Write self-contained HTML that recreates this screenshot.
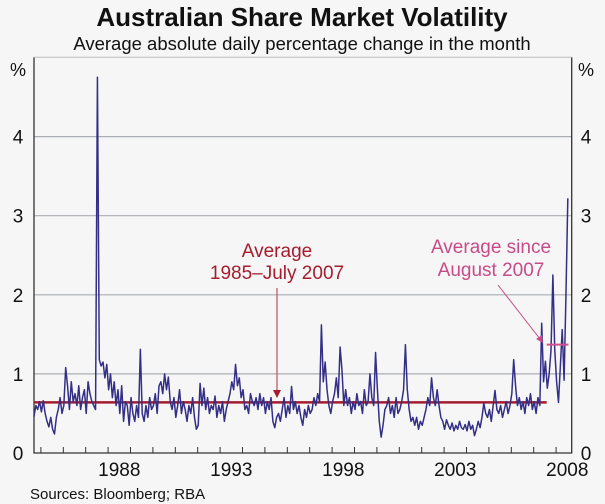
<!DOCTYPE html>
<html><head><meta charset="utf-8"><style>
body{margin:0;background:#f6f6f6;}
svg{display:block;font-family:"Liberation Sans",sans-serif;}
</style></head><body>
<svg id="chart" width="605" height="504" viewBox="0 0 605 504">
<rect x="0" y="0" width="605" height="504" fill="#f6f6f6"/>
<text x="302" y="26" text-anchor="middle" font-size="26" font-weight="bold" fill="#111">Australian Share Market Volatility</text>
<text x="302" y="50" text-anchor="middle" font-size="18.5" fill="#111">Average absolute daily percentage change in the month</text>
<text x="18" y="76" text-anchor="middle" font-size="18" fill="#111">%</text>
<text x="586" y="76" text-anchor="middle" font-size="18" fill="#111">%</text>
<g id="grid"></g>
<g id="axes"></g>
<g id="series"></g>
<text x="277" y="257" text-anchor="middle" font-size="19" fill="#a51d2d">Average</text>
<text x="277" y="279" text-anchor="middle" font-size="19" fill="#a51d2d">1985–July 2007</text>
<line x1="277" y1="288" x2="277" y2="391" stroke="#c0606a" stroke-width="1.3"/>
<polygon points="273,390 281,390 277,398" fill="#a51d2d"/>
<text x="491" y="253" text-anchor="middle" font-size="19" fill="#c84b88">Average since</text>
<text x="491" y="276" text-anchor="middle" font-size="19" fill="#c84b88">August 2007</text>
<line x1="498" y1="285" x2="540" y2="339" stroke="#c84b88" stroke-width="1"/>
<polygon points="536,339 542,335 543,343" fill="#c84b88"/>
<text x="30" y="499" font-size="15" fill="#111">Sources: Bloomberg; RBA</text>
</svg>
<script>
const startYear = 1984.69;
const values = [
0.46,0.6,0.55,0.65,0.52,0.66,0.5,0.4,0.33,0.45,0.3,0.24,
0.45,0.55,0.7,0.5,0.6,1.08,0.85,0.55,0.9,0.65,0.75,0.6,
0.85,0.55,0.7,0.8,0.5,0.9,0.75,0.65,0.6,0.55,4.75,1.18,
1.1,1.15,0.95,1.12,0.8,1.0,0.7,0.9,0.6,0.8,0.5,0.85,
0.4,0.65,0.6,0.35,0.7,0.5,0.4,0.6,0.45,1.31,0.5,0.4,
0.6,0.45,0.7,0.55,0.6,0.75,0.5,0.85,0.9,0.75,1.0,0.8,
0.96,0.65,0.55,0.7,0.45,0.6,0.8,0.5,0.65,0.55,0.4,0.6,
0.5,0.7,0.45,0.3,0.35,0.88,0.6,0.82,0.55,0.7,0.5,0.6,
0.55,0.72,0.45,0.6,0.5,0.65,0.4,0.55,0.65,0.75,0.9,0.8,
1.12,0.85,0.95,0.7,0.8,0.55,0.6,0.5,0.75,0.65,0.6,0.7,
0.55,0.75,0.6,0.7,0.5,0.65,0.55,0.7,0.4,0.32,0.45,0.5,
0.4,0.55,0.7,0.45,0.6,0.5,0.84,0.55,0.65,0.5,0.6,0.45,
0.35,0.55,0.45,0.6,0.5,0.55,0.7,0.6,0.75,0.65,1.62,0.9,
1.15,0.8,0.6,0.5,0.65,0.75,0.95,0.7,1.34,1.05,0.6,0.8,
0.6,0.7,0.5,0.65,0.55,0.75,0.6,0.65,0.5,0.8,0.6,0.65,
1.0,0.7,0.6,1.27,0.8,0.4,0.2,0.35,0.55,0.6,0.7,0.5,
0.6,0.45,0.7,0.5,0.55,0.65,0.8,1.37,0.8,0.55,0.4,0.45,
0.35,0.45,0.3,0.4,0.35,0.45,0.55,0.7,0.6,0.95,0.7,0.6,
0.8,0.6,0.45,0.4,0.3,0.42,0.35,0.3,0.38,0.28,0.35,0.3,
0.4,0.32,0.3,0.36,0.28,0.4,0.3,0.35,0.22,0.3,0.4,0.32,
0.45,0.63,0.5,0.45,0.55,0.4,0.6,0.79,0.55,0.5,0.6,0.45,
0.55,0.65,0.5,0.6,0.75,1.18,0.85,0.6,0.7,0.55,0.65,0.5,
0.7,0.6,0.75,0.55,0.65,0.5,0.7,0.6,1.64,0.9,1.16,0.82,
1.0,1.3,2.25,1.3,0.9,0.64,1.1,1.56,0.92,2.0,3.22
];
const yTicks = [0,1,2,3,4];
const xLabels = ["1988","1993","1998","2003","2008"];
const avgPeriods = [1984.69, 2007.58];
const avgValues = [0.64];
const sincePeriods = [2007.58, 2008.55];
const sinceValues = [1.37];

const L=34,R=571.7,T=57.3,B=453;
function xs(t){return 63.3+(t-1986)*22.4;}
function ys(v){return B-v*79.1;}
const NS="http://www.w3.org/2000/svg";
function mk(tag,attrs,parent){const e=document.createElementNS(NS,tag);for(const k in attrs)e.setAttribute(k,attrs[k]);parent.appendChild(e);return e;}
const grid=document.getElementById('grid'),axes=document.getElementById('axes'),series=document.getElementById('series');
yTicks.forEach(v=>{
  if(v>0){const g=mk('line',{x1:L,x2:R,y1:ys(v),y2:ys(v),stroke:'#a9adb1','stroke-width':1.2},grid);
    
    }
  const a=mk('text',{x:18,y:ys(v)+7,'text-anchor':'middle','font-size':19,fill:'#111'},axes);a.textContent=v;
  
  
  const b=mk('text',{x:586,y:ys(v)+7,'text-anchor':'middle','font-size':19,fill:'#111'},axes);b.textContent=v;
  
  
});
const frame=mk('path',{d:`M${L},${T}V${B}H${R}V${T}`,fill:'none',stroke:'#333','stroke-width':1.3},axes);


const topBorder=mk('line',{x1:L,x2:R,y1:T,y2:T,stroke:'#bbb','stroke-width':1},axes);


for(let y=1985;y<=2008;y++){const x=xs(y);if(x<=L||x>=R)continue;
  const t=mk('line',{x1:x,x2:x,y1:B,y2:B-6,stroke:'#333','stroke-width':1},axes);
  
  }
xLabels.forEach(l=>{const t=mk('text',{x:xs(+l+0.5),y:476,'text-anchor':'middle','font-size':19,fill:'#111'},axes);t.textContent=l;
  
  });
let d='';values.forEach((v,i)=>{d+=(i?'L':'M')+xs(startYear+i/12).toFixed(2)+','+ys(v).toFixed(2);});
const avg=mk('line',{x1:xs(avgPeriods[0]),x2:xs(avgPeriods[1]),y1:ys(avgValues[0]),y2:ys(avgValues[0]),stroke:'#a51d2d','stroke-width':2.6},series);


const vol=mk('path',{d:d,fill:'none',stroke:'#332f86','stroke-width':1.5,'stroke-linejoin':'round'},series);


const since=mk('line',{x1:xs(sincePeriods[0]),x2:xs(sincePeriods[1]),y1:ys(sinceValues[0]),y2:ys(sinceValues[0]),stroke:'#d2508e','stroke-width':2},series);


</script>
</body></html>
